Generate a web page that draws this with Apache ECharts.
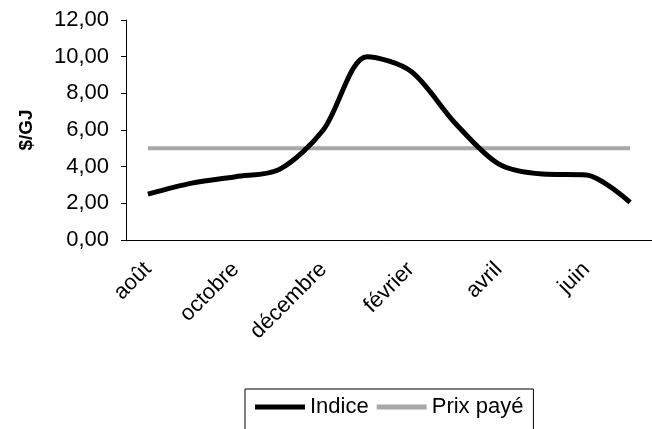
<!DOCTYPE html>
<html>
<head>
<meta charset="utf-8">
<script src="https://cdn.jsdelivr.net/npm/echarts@6/dist/echarts.min.js"></script>
<style>
  html, body { margin: 0; padding: 0; background: #fff; }
  #chart { width: 652px; height: 429px; }
</style>
</head>
<body>
<div id="chart"></div>
<script>
const months = ['août', 'septembre', 'octobre', 'novembre', 'décembre', 'janvier',
  'février', 'mars', 'avril', 'mai', 'juin', 'juillet']
const indice = [2.5, 3.1, 3.45, 3.85, 6.0, 10.0, 9.2, 6.4, 4.15, 3.6, 3.55, 2.05]
const prixPaye = [5.0, 5.0, 5.0, 5.0, 5.0, 5.0, 5.0, 5.0, 5.0, 5.0, 5.0, 5.0]

const font = '"Liberation Sans", Arial, sans-serif'
const chart = echarts.init(document.getElementById('chart'))

const option = {
  animation: false,
  textStyle: { fontFamily: font, color: '#000' },
  grid: { left: 126, right: 0, top: 20, bottom: 189 },
  legend: {
    left: 245,
    top: 389,
    orient: 'horizontal',
    borderColor: '#000',
    borderWidth: 1,
    padding: [7, 10, 30, 10],
    itemGap: 8,
    itemWidth: 50,
    itemHeight: 5,
    textStyle: { fontSize: 22, color: '#000', fontFamily: font },
    data: [
      { name: 'Indice', icon: 'rect', itemStyle: { color: '#000' } },
      { name: 'Prix payé', icon: 'rect', itemStyle: { color: '#a8a8a8' } }
    ]
  },
  xAxis: {
    type: 'category',
    data: months,
    boundaryGap: true,
    axisLine: { lineStyle: { color: '#000', width: 1 } },
    axisTick: { interval: 0, length: 5, lineStyle: { color: '#000' } },
    axisLabel: {
      interval: 1,
      rotate: 45,
      margin: 26,
      fontSize: 22,
      color: '#000',
      fontFamily: font
    },
    splitLine: { show: false }
  },
  yAxis: {
    type: 'value',
    min: 0,
    max: 12,
    interval: 2,
    name: '$/GJ',
    nameLocation: 'middle',
    nameGap: 90,
    nameRotate: 90,
    nameTextStyle: { fontSize: 19, fontWeight: 'bold', color: '#000', fontFamily: font },
    axisLine: { show: true, lineStyle: { color: '#000', width: 1 } },
    axisTick: { show: true, length: 5, lineStyle: { color: '#000' } },
    axisLabel: {
      fontSize: 22,
      color: '#000',
      margin: 17,
      fontFamily: font,
      formatter: v => v.toFixed(2).replace('.', ',')
    },
    splitLine: { show: false }
  },
  series: [
    {
      name: 'Indice',
      type: 'line',
      data: indice,
      smooth: 0.3,
      showSymbol: false,
      lineStyle: { color: '#000', width: 5 },
      itemStyle: { color: '#000' },
      z: 3
    },
    {
      name: 'Prix payé',
      type: 'line',
      data: prixPaye,
      showSymbol: false,
      lineStyle: { color: '#a8a8a8', width: 4 },
      itemStyle: { color: '#a8a8a8' },
      z: 2
    }
  ]
}

chart.setOption(option)
</script>
</body>
</html>
